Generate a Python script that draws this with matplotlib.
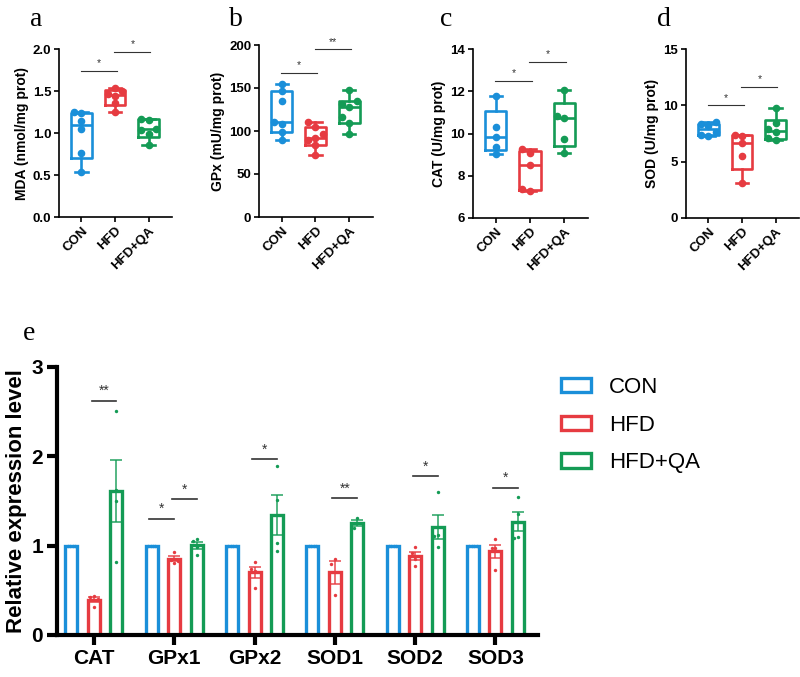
import matplotlib.pyplot as plt
import numpy as np
from matplotlib.patches import Patch

plt.rcParams['font.family'] = ['Liberation Sans', 'DejaVu Sans']

groups = ['CON', 'HFD', 'HFD+QA']
colors = ['#1a8fd9', '#e63b41', '#149b55']

# raw points for the box plots (a-d)
mda = [[0.53, 0.76, 1.05, 1.14, 1.24, 1.25],
       [1.25, 1.36, 1.44, 1.46, 1.50, 1.53],
       [0.86, 0.99, 1.04, 1.05, 1.16, 1.17]]
gpx = [[89, 99, 108, 110, 135, 147, 155],
       [72, 84, 90, 92, 97, 105, 110],
       [97, 109, 116, 128, 131, 135, 148]]
cat = [[9.03, 9.38, 9.82, 10.32, 11.78],
       [7.30, 7.35, 8.50, 9.10, 9.25],
       [9.06, 9.74, 10.72, 10.83, 12.06]]
sod = [[7.3, 7.4, 7.6, 8.2, 8.35, 8.5],
       [3.13, 5.5, 6.63, 7.3, 7.35],
       [6.9, 7.1, 7.6, 7.9, 8.4, 9.75]]

# significance marks: (group i, group j, height, label)
sig_mda = [(0, 1, 1.74, '*'), (1, 2, 1.97, '*')]
sig_gpx = [(0, 1, 168, '*'), (1, 2, 195, '**')]
sig_cat = [(0, 1, 12.5, '*'), (1, 2, 13.4, '*')]
sig_sod = [(0, 1, 10.0, '*'), (1, 2, 11.65, '*')]

# relative expression (e)
genes = ['CAT', 'GPx1', 'GPx2', 'SOD1', 'SOD2', 'SOD3']
con_expr = [[1, 1, 1, 1]] * 6
hfd_expr = [[0.44, 0.42, 0.31, 0.40], [0.93, 0.81, 0.84, 0.83],
            [0.82, 0.53, 0.72, 0.74], [0.85, 0.80, 0.45],
            [0.98, 0.92, 0.77, 0.85], [1.08, 0.97, 0.97, 0.73]]
qa_expr = [[2.51, 1.62, 1.50, 0.82], [1.07, 1.05, 0.90, 0.99],
           [1.89, 1.51, 1.03, 0.94], [1.31, 1.25, 1.20],
           [1.60, 0.99, 1.12, 1.11], [1.54, 1.35, 1.10, 1.09]]
sig_expr = [(0, 1, 2, 2.62, '**'), (1, 0, 1, 1.30, '*'), (1, 1, 2, 1.52, '*'),
            (2, 1, 2, 1.97, '*'), (3, 1, 2, 1.53, '**'), (4, 1, 2, 1.78, '*'),
            (5, 1, 2, 1.65, '*')]

W, H = 800, 677
fig = plt.figure(figsize=(W / 100, H / 100), dpi=100)


def px_axes(l, t, r, b):
    return fig.add_axes([l / W, 1 - b / H, (r - l) / W, (b - t) / H])


def swarm(vals, dy, dx):
    placed, offs = [], []
    for v in vals:
        for c in [0, -dx, dx, -2 * dx, 2 * dx]:
            if all(abs(c - po) > dx * 0.5 or abs(v - pv) >= dy for po, pv in placed):
                break
        placed.append((c, v))
        offs.append(c)
    return np.array(offs)


def box_panel(ax, data, ylim, yticks, ylabel, sigs, fmt):
    stats = []
    for vals in data:
        v = np.asarray(vals, float)
        q1, med, q3 = np.percentile(v, [25, 50, 75], method='weibull')
        stats.append(dict(med=med, q1=q1, q3=q3, whislo=v.min(), whishi=v.max(), fliers=[]))
    res = ax.bxp(stats, positions=[0, 1, 2], widths=0.62, capwidths=0.36, showfliers=False)
    for i, c in enumerate(colors):
        res['boxes'][i].set(color=c, linewidth=1.9)
        res['medians'][i].set(color=c, linewidth=1.9)
        for k in (2 * i, 2 * i + 1):
            res['whiskers'][k].set(color=c, linewidth=1.9)
            res['caps'][k].set(color=c, linewidth=1.9)
    yr = ylim[1] - ylim[0]
    for i, vals in enumerate(data):
        offs = swarm(vals, 0.035 * yr, 0.22)
        ax.scatter(i + offs, vals, s=20, color=colors[i], zorder=3)
    for i, j, y, lab in sigs:
        ax.plot([i - 0.02, j + 0.05], [y, y], color='#333333', lw=0.8)
        ax.text((i + j) / 2 + 0.02, y + 0.015 * yr, lab, ha='center', va='bottom',
                fontsize=7.5, color='#333333')
    ax.set_xlim(-0.67, 2.7)
    ax.set_ylim(*ylim)
    ax.set_yticks(yticks)
    ax.set_yticklabels([fmt.format(t) for t in yticks], fontsize=9.5, fontweight='bold')
    ax.set_xticks([0, 1, 2])
    ax.set_xticklabels(groups, rotation=45, ha='right', rotation_mode='anchor',
                       fontsize=9.5, fontweight='bold')
    ax.set_ylabel(ylabel, fontsize=10, fontweight='bold', labelpad=3)
    for s in ('top', 'right'):
        ax.spines[s].set_visible(False)
    for s in ('left', 'bottom'):
        ax.spines[s].set_linewidth(1.2)
    ax.tick_params(width=1.2, length=3.5, pad=2)


ax_a = px_axes(59, 49, 172, 217)
box_panel(ax_a, mda, (0, 2.0), [0, 0.5, 1.0, 1.5, 2.0], 'MDA (nmol/mg prot)', sig_mda, '{:.1f}')
ax_b = px_axes(259, 45, 373, 217)
box_panel(ax_b, gpx, (0, 200), [0, 50, 100, 150, 200], 'GPx (mU/mg prot)', sig_gpx, '{:.0f}')
ax_c = px_axes(473, 49, 588, 218)
box_panel(ax_c, cat, (6, 14), [6, 8, 10, 12, 14], 'CAT (U/mg prot)', sig_cat, '{:.0f}')
ax_d = px_axes(686, 49, 799, 218)
box_panel(ax_d, sod, (0, 15), [0, 5, 10, 15], 'SOD (U/mg prot)', sig_sod, '{:.0f}')

# panel e
ax_e = px_axes(57, 367, 538, 635)
x = np.arange(len(genes))
shift = [-0.28, 0.0, 0.28]
bw = 0.15
for g, (series, c) in enumerate(zip([con_expr, hfd_expr, qa_expr], colors)):
    means = np.array([np.mean(v) for v in series])
    sems = np.array([np.std(v, ddof=1) / np.sqrt(len(v)) for v in series])
    xs = x + shift[g]
    ax_e.bar(xs, means, width=bw, facecolor='white', edgecolor=c, linewidth=2.4, zorder=2)
    if g > 0:
        ax_e.errorbar(xs, means, yerr=sems, fmt='none', ecolor=c, elinewidth=1.2,
                      capsize=4, capthick=1.2, alpha=0.85, zorder=3)
    for k, v in enumerate(series):
        if g == 0:
            offs = np.linspace(-0.045, 0.045, len(v))
        else:
            offs = swarm(v, 0.06, 0.045)
        ax_e.scatter(xs[k] + offs, v, s=6, color=c, zorder=4, linewidths=0)

for k, i, j, y, lab in sig_expr:
    x1, x2 = k + shift[i], k + shift[j]
    ax_e.plot([x1 - 0.03, x2 + 0.0], [y, y], color='#333333', lw=1.2)
    ax_e.text((x1 + x2) / 2 - 0.015, y + 0.03, lab, ha='center', va='bottom',
              fontsize=10, color='#333333')

ax_e.set_xlim(-0.46, 5.53)
ax_e.set_ylim(0, 3)
ax_e.set_yticks([0, 1, 2, 3])
ax_e.set_yticklabels(['0', '1', '2', '3'], fontsize=15, fontweight='bold')
ax_e.set_xticks(x)
ax_e.set_xticklabels(genes, fontsize=15, fontweight='bold')
ax_e.set_ylabel('Relative expression level', fontsize=16, fontweight='bold', labelpad=3)
for s in ('top', 'right'):
    ax_e.spines[s].set_visible(False)
for s in ('left', 'bottom'):
    ax_e.spines[s].set_linewidth(3)
ax_e.tick_params(width=3, length=7, pad=3)

handles = [Patch(facecolor='white', edgecolor=c, linewidth=2.4) for c in colors]
fig.legend(handles, groups, loc='upper left', bbox_to_anchor=(561 / W, 1 - 377 / H),
           frameon=False, fontsize=16, handlelength=1.35, handleheight=0.6,
           handletextpad=0.8, labelspacing=0.75, borderpad=0, borderaxespad=0)

for lab, px, py in [('a', 36, 20), ('b', 236, 20), ('c', 446, 20), ('d', 664, 20), ('e', 29, 334)]:
    fig.text(px / W, 1 - py / H, lab, fontsize=20, family='Liberation Serif',
             ha='center', va='center')

fig.savefig('out.png', dpi=100)
